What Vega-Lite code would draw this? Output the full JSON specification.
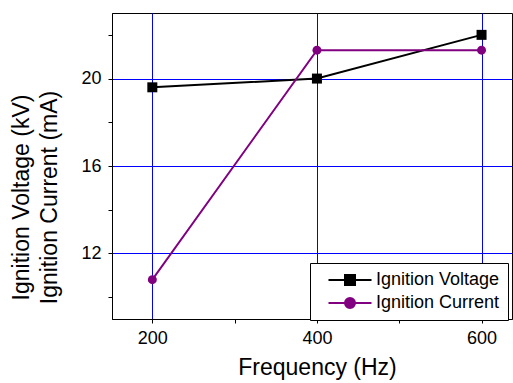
{
  "$schema": "https://vega.github.io/schema/vega-lite/v6.json",
  "width": 400,
  "height": 306,
  "autosize": {"type": "none"},
  "padding": {"left": 112, "top": 13, "right": 1, "bottom": 64},
  "background": "white",
  "config": {
    "view": {"stroke": "black", "strokeWidth": 1},
    "font": "Liberation Sans",
    "axis": {
      "domainColor": "black",
      "tickColor": "black",
      "tickSize": 4,
      "labelColor": "black",
      "titleColor": "black",
      "labelFont": "Liberation Sans",
      "titleFont": "Liberation Sans",
      "labelFontSize": 18,
      "titleFontSize": 23,
      "titleFontWeight": "normal",
      "gridColor": "#0000ff",
      "gridOpacity": 1,
      "gridWidth": 1
    }
  },
  "data": {
    "values": [
      {"f": 200, "series": "Ignition Voltage", "val": 19.6},
      {"f": 400, "series": "Ignition Voltage", "val": 20.0},
      {"f": 600, "series": "Ignition Voltage", "val": 22.0},
      {"f": 200, "series": "Ignition Current", "val": 10.8},
      {"f": 400, "series": "Ignition Current", "val": 21.3},
      {"f": 600, "series": "Ignition Current", "val": 21.3}
    ]
  },
  "resolve": {"axis": {"x": "independent", "y": "independent"}},
  "layer": [
    {
      "encoding": {
        "x": {
          "field": "f",
          "type": "quantitative",
          "scale": {"domain": [151, 637], "nice": false, "zero": false},
          "axis": {
            "orient": "bottom",
            "title": "Frequency (Hz)",
            "values": [200, 400, 600],
            "grid": true,
            "labelPadding": 6,
            "titlePadding": 9,
            "titleX": 205
          }
        },
        "y": {
          "field": "val",
          "type": "quantitative",
          "scale": {"domain": [9, 23], "nice": false, "zero": false},
          "axis": {
            "orient": "left",
            "title": ["Ignition Voltage (kV)", "Ignition Current (mA)"],
            "titleLineHeight": 28,
            "values": [12, 16, 20],
            "grid": true,
            "labelPadding": 7,
            "titlePadding": 19,
            "titleY": 184
          }
        },
        "color": {
          "field": "series",
          "type": "nominal",
          "sort": null,
          "scale": {"domain": ["Ignition Voltage", "Ignition Current"], "range": ["black", "#800080"]},
          "legend": {
            "title": null,
            "orient": "none",
            "legendX": 198,
            "legendY": 250,
            "strokeColor": "black",
            "fillColor": "white",
            "padding": 8,
            "labelFontSize": 18,
            "labelFont": "Liberation Sans",
            "labelColor": "black",
            "labelOffset": 17,
            "symbolOffset": 23,
            "rowPadding": 5,
            "symbolSize": 100,
            "symbolStrokeWidth": 2,
            "encoding": {
              "symbols": {
                "shape": {"condition": {"test": "datum.value === 'Ignition Voltage'", "value": "M-1,-1L1,-1L1,1L-1,1Z M-4.3,0L-1,0 M1,0L4.3,0"}, "value": "M1,0C1,0.5523 0.5523,1 0,1C-0.5523,1 -1,0.5523 -1,0C-1,-0.5523 -0.5523,-1 0,-1C0.5523,-1 1,-0.5523 1,0Z M-4.3,0L-1,0 M1,0L4.3,0"},
                "fill": {"condition": {"test": "datum.value === 'Ignition Voltage'", "value": "black"}, "value": "#800080"},
                "stroke": {"condition": {"test": "datum.value === 'Ignition Voltage'", "value": "black"}, "value": "#800080"},
                "strokeWidth": {"value": 2},
                "strokeOpacity": {"value": 1},
                "fillOpacity": {"value": 1},
                "size": {"value": 100},
                "opacity": {"value": 1}
              }
            }
          }
        }
      },
      "layer": [
        {"mark": {"type": "line", "strokeWidth": 2}},
        {
          "transform": [{"filter": "datum.series === 'Ignition Voltage'"}],
          "mark": {"type": "point", "filled": true, "opacity": 1, "shape": "square", "size": 100}
        },
        {
          "transform": [{"filter": "datum.series === 'Ignition Current'"}],
          "mark": {"type": "point", "filled": true, "opacity": 1, "shape": "circle", "size": 80}
        }
      ]
    },
    {
      "mark": {"type": "point", "opacity": 0},
      "encoding": {
        "x": {
          "field": "f",
          "type": "quantitative",
          "axis": {"orient": "bottom", "values": [300, 500], "labels": false, "grid": false, "domain": false, "title": null}
        },
        "y": {
          "field": "val",
          "type": "quantitative",
          "axis": {"orient": "left", "values": [10, 14, 18, 22], "labels": false, "grid": false, "domain": false, "title": null}
        }
      }
    }
  ]
}
